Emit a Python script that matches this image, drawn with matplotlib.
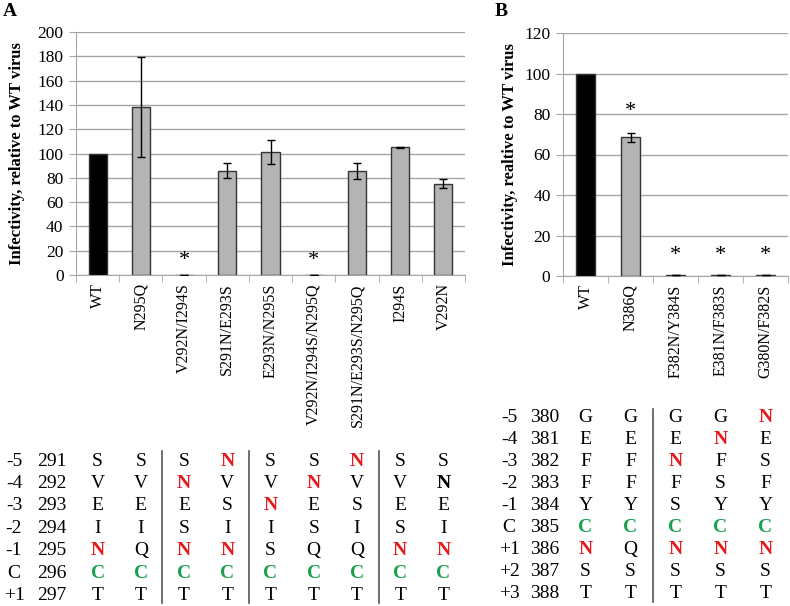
import numpy as np
import matplotlib.pyplot as plt
import matplotlib.transforms as mtransforms

plt.rcParams['font.family'] = ['Liberation Serif', 'DejaVu Serif']

# Panel A data
labels_a = ['WT', 'N295Q', 'V292N/I294S', 'S291N/E293S', 'E293N/N295S',
            'V292N/I294S/N295Q', 'S291N/E293S/N295Q', 'I294S', 'V292N']
vals_a = [100, 138.5, 0.4, 86, 101, 0.4, 85.5, 105, 75]
errs_a = [0, 41, 0, 6.5, 10, 0, 6.5, 0.5, 3.7]
star_idx_a = [2, 5]
star_y_a = 12

# Panel B data
labels_b = ['WT', 'N386Q', 'F382N/Y384S', 'E381N/F383S', 'G380N/F382S']
vals_b = [100, 68.5, 0.3, 0.3, 0.3]
errs_b = [0, 2.2, 0, 0, 0]
star_idx_b = [1, 2, 3, 4]
star_y_b = [81, 10, 10, 10]

# Sequence tables (one string per column, one letter per row)
rel_a = ['-5', '-4', '-3', '-2', '-1', 'C', '+1']
pos_a = ['291', '292', '293', '294', '295', '296', '297']
seq_a = ['SVEINCT', 'SVEIQCT', 'SNESNCT', 'NVSINCT', 'SVNISCT',
         'SNESQCT', 'NVSIQCT', 'SVESNCT', 'SNEINCT']
sty_a = ['....rg.', '.....g.', '.r..rg.', 'r...rg.', '..r..g.',
         '.r...g.', 'r....g.', '....rg.', '.k..rg.']
sep_a = [1.5, 3.5, 6.5]

rel_b = ['-5', '-4', '-3', '-2', '-1', 'C', '+1', '+2', '+3']
pos_b = ['380', '381', '382', '383', '384', '385', '386', '387', '388']
seq_b = ['GEFFYCNST', 'GEFFYCQST', 'GENFSCNST', 'GNFSYCNST', 'NESFYCNST']
sty_b = ['.....gr..', '.....g...', '..r..gr..', '.r...gr..', 'r....gr..']
sep_b = [1.5]

W, H = 790, 606
fig = plt.figure(figsize=(W / 100, H / 100), dpi=100)

RED = '#e41a1c'
GREEN = '#18a04c'
GRID = '#a6a6a6'
colors = {'r': RED, 'g': GREEN, 'k': 'black', '.': 'black'}


def fy(py):
    return 1 - py / H


def bar_panel(rect, labels, vals, errs, ymax, ystep, ylabel):
    ax = fig.add_axes(rect)
    x = np.arange(len(labels))
    cols = ['black'] + ['#b4b4b4'] * (len(labels) - 1)
    ax.bar(x, vals, width=0.42, color=cols, edgecolor='#333333', linewidth=1, zorder=3)
    ax.errorbar(x[1:], vals[1:], yerr=errs[1:], fmt='none', ecolor='black',
                elinewidth=1, capsize=3, capthick=1, zorder=4)
    ax.set_xlim(-0.5, len(labels) - 0.5)
    ax.set_ylim(0, ymax)
    ax.set_yticks(np.arange(0, ymax + 1, ystep))
    ax.yaxis.grid(True, color=GRID, linewidth=1)
    ax.set_axisbelow(True)
    for s in ['top', 'right']:
        ax.spines[s].set_visible(False)
    ax.spines['left'].set_color(GRID)
    ax.spines['bottom'].set_color(GRID)
    ax.tick_params(axis='y', length=5, color=GRID, labelsize=12.5, pad=4)
    ax.set_xticks(x)
    ax.set_xticklabels(labels, rotation=90, fontsize=11.5)
    ax.tick_params(axis='x', length=0, pad=6)
    ax.set_xticks(np.arange(-0.5, len(labels)), minor=True)
    ax.tick_params(axis='x', which='minor', length=5, color=GRID)
    ax.set_ylabel(ylabel, fontsize=12, fontweight='bold')
    return ax


ax_a = bar_panel([76 / W, fy(275), (465 - 76) / W, (275 - 32) / H],
                 labels_a, vals_a, errs_a, 200, 20,
                 'Infectivity, relative to WT virus')
ax_b = bar_panel([563 / W, fy(276), (788 - 563) / W, (276 - 33) / H],
                 labels_b, vals_b, errs_b, 120, 20,
                 'Infectivity, realtive to WT virus')
ax_a.yaxis.set_label_coords(-0.13, 0.5)
ax_b.yaxis.set_label_coords(-0.2, 0.5)

for i in star_idx_a:
    ax_a.text(i, star_y_a, '*', ha='center', va='center', fontsize=16)
for i, yv in zip(star_idx_b, star_y_b):
    ax_b.text(i, yv, '*', ha='center', va='center', fontsize=16)

fig.text(10 / W, fy(12), 'A', fontsize=14, fontweight='bold', ha='center', va='center')
fig.text(501 / W, fy(12), 'B', fontsize=14, fontweight='bold', ha='center', va='center')


def seq_table(ax, rel, pos, seqs, stys, seps, x_rel, x_pos, y0, dy, sep_top, sep_bot):
    tr = mtransforms.blended_transform_factory(ax.transData, fig.transFigure)
    for r in range(len(rel)):
        yy = fy(y0 + r * dy)
        fig.text(x_rel / W, yy, rel[r], ha='center', va='center', fontsize=14)
        fig.text(x_pos / W, yy, pos[r], ha='center', va='center', fontsize=14)
        for c, (s, st) in enumerate(zip(seqs, stys)):
            bold = st[r] != '.'
            ax.text(c, yy, s[r], transform=tr, ha='center', va='center',
                    fontsize=14, color=colors[st[r]],
                    fontweight='bold' if bold else 'normal')
    for sx in seps:
        ax.plot([sx, sx], [fy(sep_top), fy(sep_bot)], transform=tr,
                color='#555555', linewidth=1.2, clip_on=False)


seq_table(ax_a, rel_a, pos_a, seq_a, sty_a, sep_a, 14, 52, 461, 22.4, 451, 603)
seq_table(ax_b, rel_b, pos_b, seq_b, sty_b, sep_b, 509, 545, 418, 21.9, 409, 602)

fig.savefig('out.png', dpi=100)
